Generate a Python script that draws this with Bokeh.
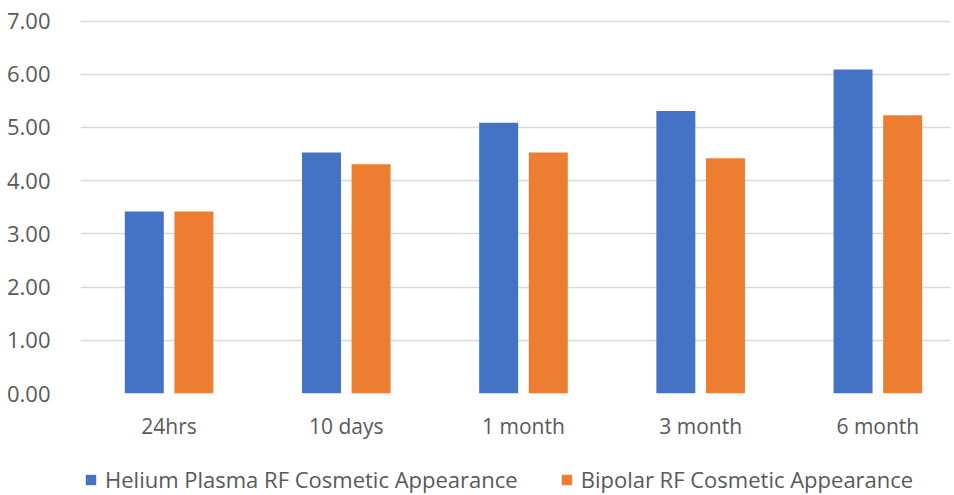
from bokeh.plotting import figure
from bokeh.layouts import column
from bokeh.models import ColumnDataSource, FixedTicker, Legend, LegendItem, Range1d
from bokeh.transform import dodge
from bokeh.embed import file_html
from bokeh.resources import INLINE

categories = ["24hrs", "10 days", "1 month", "3 month", "6 month"]
helium = [3.42, 4.53, 5.09, 5.31, 6.09]
bipolar = [3.42, 4.31, 4.53, 4.42, 5.23]
y_ticks = [0, 1, 2, 3, 4, 5, 6, 7]
series_names = ["Helium Plasma RF Cosmetic Appearance", "Bipolar RF Cosmetic Appearance"]
colors = ["#4472C4", "#ED7D31"]

xs = list(range(len(categories)))
src = ColumnDataSource(dict(x=xs, helium=helium, bipolar=bipolar))

FONT = "Open Sans"
TXT = "#595959"

p = figure(width=954, height=450, output_backend="svg", toolbar_location=None,
           x_range=Range1d(-0.5, 4.41), y_range=Range1d(0, 7.03),
           min_border_left=80, min_border_right=4, min_border_top=19, min_border_bottom=57)
p.outline_line_color = None
p.background_fill_color = "white"
p.border_fill_color = "white"

p.vbar(x=dodge("x", -0.14, range=p.x_range), top="helium", width=0.22, source=src,
       fill_color=colors[0], line_color=None)
p.vbar(x=dodge("x", 0.14, range=p.x_range), top="bipolar", width=0.22, source=src,
       fill_color=colors[1], line_color=None)

p.xaxis.ticker = FixedTicker(ticks=xs)
p.xaxis.major_label_overrides = {i: c for i, c in enumerate(categories)}
p.xaxis.axis_line_color = None
p.xaxis.major_tick_line_color = None
p.xaxis.minor_tick_line_color = None
p.xaxis.major_label_standoff = 12
p.xaxis.major_label_text_font = FONT
p.xaxis.major_label_text_font_size = "21px"
p.xaxis.major_label_text_color = TXT

p.yaxis.ticker = FixedTicker(ticks=y_ticks)
p.yaxis.major_label_overrides = {t: f"{t:.2f}" for t in y_ticks}
p.yaxis.axis_line_color = None
p.yaxis.major_tick_line_color = None
p.yaxis.minor_tick_line_color = None
p.yaxis.major_label_standoff = 24
p.yaxis.major_label_text_font = FONT
p.yaxis.major_label_text_font_size = "22px"
p.yaxis.major_label_text_color = TXT

p.xgrid.grid_line_color = None
p.ygrid.grid_line_color = "#d9d9d9"
p.ygrid.grid_line_width = 1.5

# legend strip below the chart (its renderers hold one point outside the visible range)
lf = figure(width=954, height=45, output_backend="svg", toolbar_location=None,
            x_range=Range1d(0, 1), y_range=Range1d(0, 1),
            min_border_left=0, min_border_right=0, min_border_top=0, min_border_bottom=0)
lf.axis.visible = False
lf.grid.visible = False
lf.outline_line_color = None
lf.border_fill_color = "white"
lr1 = lf.rect(x=[-5], y=[-5], width=0.1, height=0.1, fill_color=colors[0], line_color=None)
lr2 = lf.rect(x=[-5], y=[-5], width=0.1, height=0.1, fill_color=colors[1], line_color=None)

legend = Legend(items=[LegendItem(label=series_names[0], renderers=[lr1]),
                       LegendItem(label=series_names[1], renderers=[lr2])],
                orientation="horizontal", location=(4, 1),
                label_text_font=FONT, label_text_font_size="22px", label_text_color=TXT,
                glyph_width=13, glyph_height=13, spacing=42, label_standoff=8,
                border_line_color=None, background_fill_alpha=0, margin=0, padding=0)
lf.add_layout(legend, "center")

open("out.html", "w").write(file_html(column(p, lf, spacing=0), INLINE))
